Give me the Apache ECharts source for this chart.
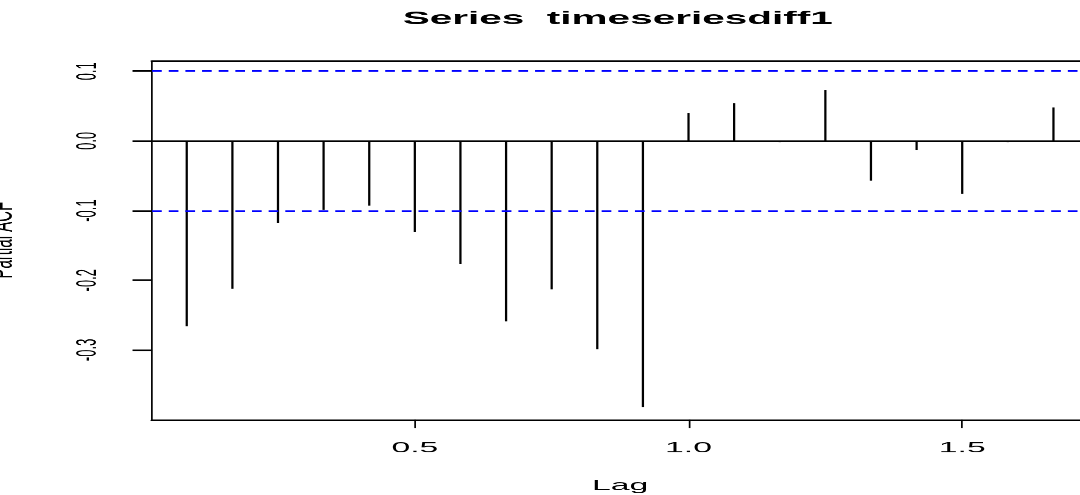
<!DOCTYPE html>
<html>
<head>
<meta charset="utf-8">
<title>Series timeseriesdiff1</title>
<script src="https://cdn.jsdelivr.net/npm/echarts@6/dist/echarts.min.js"></script>
<style>
  html, body { margin: 0; padding: 0; background: #fff; overflow: hidden; }
  /* the original R plot is stretched sideways: draw it 480 wide, then stretch */
  #chart { width: 480px; height: 495px; transform: scaleX(2.25); transform-origin: 0 0; }
</style>
</head>
<body>
<div id="chart"></div>
<script>
const lags = [0.0833, 0.1667, 0.25, 0.3333, 0.4167, 0.5, 0.5833, 0.6667, 0.75, 0.8333,
  0.9167, 1.0, 1.0833, 1.1667, 1.25, 1.3333, 1.4167, 1.5, 1.5833, 1.6667]
const pacf = [-0.266, -0.212, -0.118, -0.099, -0.093, -0.131, -0.177, -0.259, -0.213, -0.299,
  -0.382, 0.040, 0.054, -0.002, 0.073, -0.057, -0.013, -0.076, -0.002, 0.048]
const ciLimit = 0.0959
const xTicks = [0.5, 1.0, 1.5]
const yTicks = [-0.3, -0.2, -0.1, 0.0, 0.1]

const font = 'Liberation Sans, Arial, sans-serif'
const myChart = echarts.init(document.getElementById('chart'), null, { devicePixelRatio: 2.25 })

const option = {
  animation: false,
  title: {
    text: 'Series  timeseriesdiff1',
    left: 179,
    top: 10,
    padding: 0,
    textStyle: { fontFamily: font, fontSize: 18, fontWeight: 'bold', color: '#000' }
  },
  grid: {
    left: 67.6,
    top: 60.7,
    width: 416,
    height: 358.6,
    outerBoundsMode: 'none',
    show: false
  },
  xAxis: [
    {
      type: 'value',
      min: 0.02,
      max: 1.73,
      position: 'bottom',
      name: 'Lag',
      nameLocation: 'middle',
      nameGap: 59,
      nameTextStyle: { fontFamily: font, fontSize: 15, color: '#000' },
      axisLine: { show: true, onZero: false, lineStyle: { color: '#000', width: 1.5 } },
      axisTick: { show: true, inside: false, length: 8.7, customValues: xTicks, lineStyle: { color: '#000', width: 0.75 } },
      axisLabel: {
        customValues: xTicks,
        margin: 21,
        fontFamily: font,
        fontSize: 15,
        color: '#000',
        formatter: v => v.toFixed(1)
      },
      splitLine: { show: false }
    },
    {
      // top edge of the plot box
      type: 'value',
      min: 0.02,
      max: 1.73,
      position: 'top',
      axisLine: { show: true, onZero: false, lineStyle: { color: '#000', width: 1.5 } },
      axisTick: { show: false },
      axisLabel: { show: false },
      splitLine: { show: false }
    }
  ],
  yAxis: {
    type: 'value',
    min: -0.4,
    max: 0.115,
    name: 'Partial ACF',
    nameLocation: 'middle',
    nameRotate: 90,
    nameGap: 59,
    nameTextStyle: { fontFamily: font, fontSize: 15, color: '#000' },
    axisLine: { show: true, onZero: false, lineStyle: { color: '#000', width: 0.75 } },
    axisTick: { show: true, inside: false, length: 8.7, customValues: yTicks, lineStyle: { color: '#000', width: 1.5 } },
    axisLabel: {
      customValues: yTicks,
      rotate: 90,
      margin: 22,
      fontFamily: font,
      fontSize: 13,
      color: '#000',
      formatter: v => v.toFixed(1)
    },
    splitLine: { show: false }
  },
  series: [
    {
      name: 'PACF',
      type: 'bar',
      xAxisIndex: 0,
      barWidth: 0.8,
      itemStyle: { color: '#000' },
      data: lags.map((x, i) => [x, pacf[i]]),
      markLine: {
        silent: true,
        symbol: 'none',
        label: { show: false },
        data: [
          { yAxis: 0, lineStyle: { color: '#000', type: 'solid', width: 1.5 } },
          { yAxis: ciLimit, lineStyle: { color: '#0000ff', type: [4.3, 3.1], width: 1.5 } },
          { yAxis: -ciLimit, lineStyle: { color: '#0000ff', type: [4.3, 3.1], width: 1.5 } }
        ]
      }
    }
  ]
}
myChart.setOption(option)
</script>
</body>
</html>
